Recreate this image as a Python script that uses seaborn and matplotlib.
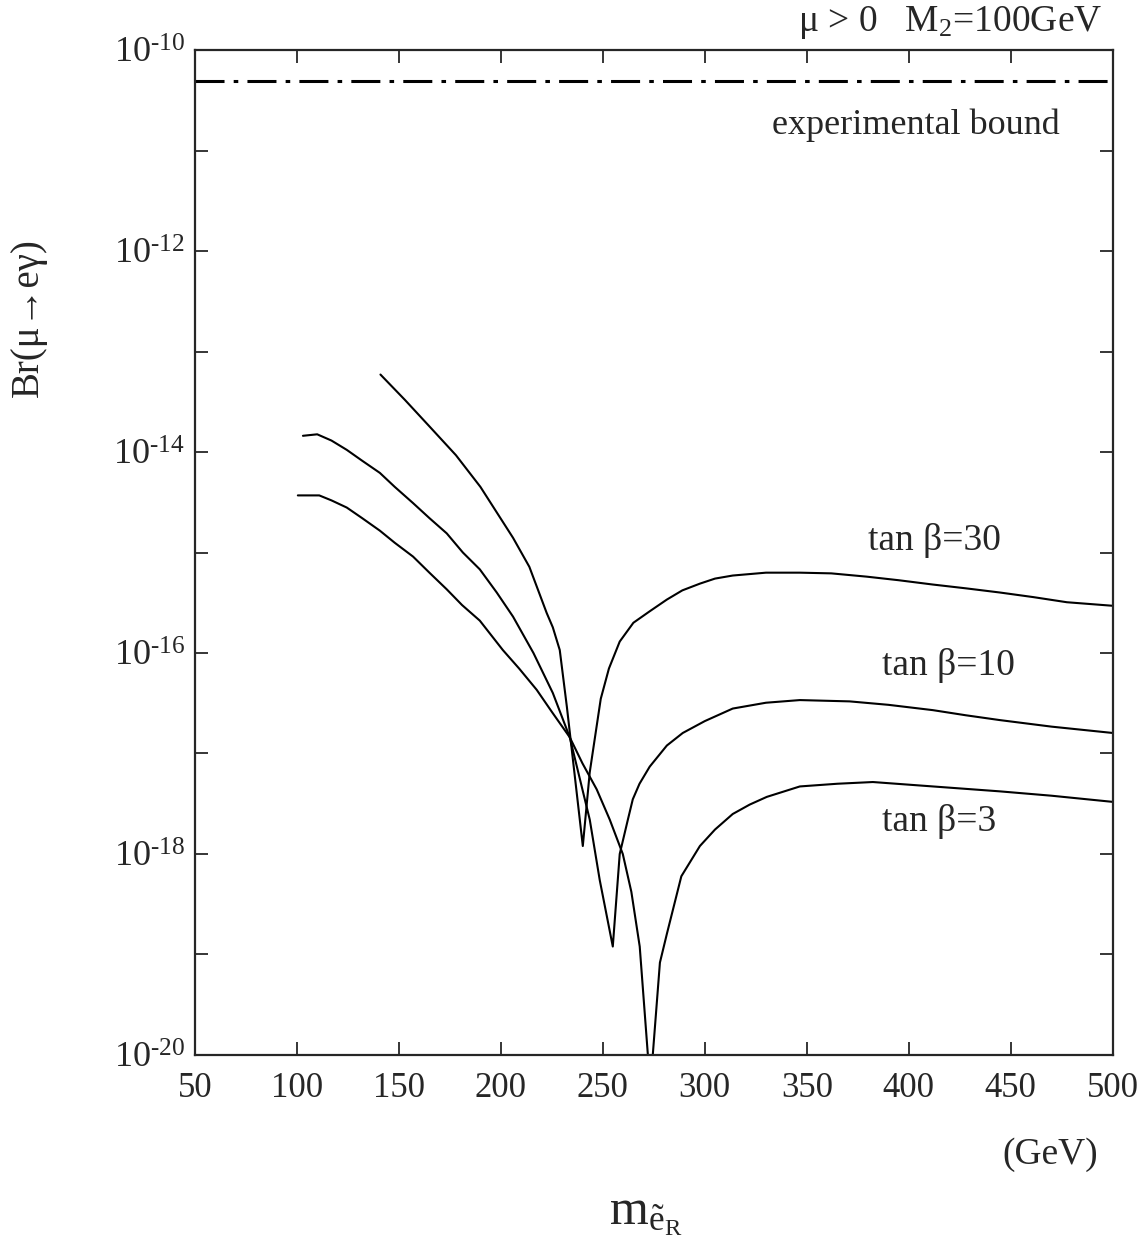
import matplotlib
matplotlib.use("Agg")
import matplotlib.pyplot as plt
from matplotlib.ticker import NullLocator
import seaborn as sns
import pandas as pd

# --- data (m_eR in GeV, Br(mu -> e gamma)) ---
m_tb30 = [141, 153, 165, 178, 190, 206, 214, 222.5, 225.5, 228.9, 232.4, 240.2,
          243.6, 249, 253, 258.3, 265, 273, 281.4, 289, 297.6, 305, 313.7, 330,
          346.6, 362, 379.4, 395, 411.8, 428, 444.6, 461, 477.5, 500]
br_tb30 = [5.9e-14, 3.3e-14, 1.8e-14, 9.3e-15, 4.5e-15, 1.4e-15, 7.2e-16, 2.5e-16,
           1.8e-16, 1.07e-16, 2.9e-17, 1.2e-18, 6.5e-18, 3.5e-17, 7.0e-17, 1.3e-16,
           2.0e-16, 2.6e-16, 3.4e-16, 4.2e-16, 4.9e-16, 5.5e-16, 5.9e-16, 6.3e-16,
           6.3e-16, 6.2e-16, 5.75e-16, 5.3e-16, 4.8e-16, 4.4e-16, 4.0e-16, 3.6e-16,
           3.2e-16, 2.95e-16]

m_tb10 = [103, 110, 117, 124.5, 132, 140.7, 148, 157, 165, 173.5, 181.4, 189.7,
          198, 206, 216, 225.5, 233.8, 243.6, 248.5, 254.9, 258.3, 262.3, 264.7,
          268, 273, 281.4, 289.2, 300, 313.7, 330, 346.6, 371, 390, 411.8, 428,
          444.6, 470, 500]
br_tb10 = [1.45e-14, 1.5e-14, 1.3e-14, 1.05e-14, 8.2e-15, 6.2e-15, 4.5e-15, 3.1e-15,
           2.2e-15, 1.55e-15, 1.0e-15, 6.8e-16, 4.0e-16, 2.3e-16, 1.0e-16, 4.0e-17,
           1.45e-17, 2.2e-18, 5.5e-19, 1.2e-19, 1.0e-18, 2.2e-18, 3.5e-18, 5.0e-18,
           7.4e-18, 1.2e-17, 1.6e-17, 2.1e-17, 2.8e-17, 3.2e-17, 3.4e-17, 3.3e-17,
           3.05e-17, 2.7e-17, 2.4e-17, 2.15e-17, 1.85e-17, 1.6e-17]

m_tb3 = [100.5, 111, 117, 124.5, 132, 140.7, 148, 157, 165, 173.5, 181, 189.7, 201,
         209, 217.6, 225, 233.8, 240, 247, 253.4, 259.8, 264, 268.1, 272.1, 273.5,
         274.5, 278, 281.4, 288.5, 297.6, 305, 313.7, 322, 330.4, 346.6, 365, 382.4,
         411.8, 444.6, 470, 500]
br_tb3 = [3.7e-15, 3.7e-15, 3.3e-15, 2.8e-15, 2.2e-15, 1.65e-15, 1.25e-15, 9.1e-16,
          6.3e-16, 4.3e-16, 3.0e-16, 2.1e-16, 1.07e-16, 7.0e-17, 4.3e-17, 2.6e-17,
          1.45e-17, 8.0e-18, 4.4e-18, 2.2e-18, 1.0e-18, 4.2e-19, 1.2e-19, 1.0e-20,
          3.0e-21, 1.0e-20, 8.3e-20, 1.6e-19, 6.0e-19, 1.2e-18, 1.75e-18, 2.5e-18,
          3.1e-18, 3.7e-18, 4.7e-18, 5.0e-18, 5.2e-18, 4.7e-18, 4.2e-18, 3.8e-18,
          3.3e-18]

exp_bound = 4.9e-11

x_ticks = [50, 100, 150, 200, 250, 300, 350, 400, 450, 500]
y_decades = list(range(-20, -9))

curves = pd.concat([
    pd.DataFrame({"m": m_tb30, "br": br_tb30, "tanb": "30"}),
    pd.DataFrame({"m": m_tb10, "br": br_tb10, "tanb": "10"}),
    pd.DataFrame({"m": m_tb3, "br": br_tb3, "tanb": "3"}),
])

sns.set_style("ticks")
plt.rcParams["font.family"] = ["Liberation Serif", "DejaVu Serif"]
plt.rcParams["mathtext.fontset"] = "custom"
plt.rcParams["mathtext.rm"] = "Liberation Serif"
plt.rcParams["mathtext.it"] = "Liberation Serif:italic"

fig = plt.figure(figsize=(11.46, 12.51), dpi=100)
ax = fig.add_axes([0.170, 0.1567, 0.801, 0.8033])

for tb, grp in curves.groupby("tanb", sort=False):
    sns.lineplot(data=grp, x="m", y="br", ax=ax, color="black", lw=1.5,
                 estimator=None, sort=False, legend=False)

ax.axhline(exp_bound, color="black", lw=2.2, ls=(0, (9.5, 3, 1.5, 3)))

ax.set_yscale("log")
ax.set_xlim(50, 500)
ax.set_ylim(1e-20, 1e-10)
ax.set_xticks(x_ticks)
ax.set_xticklabels([str(v) for v in x_ticks])
ax.set_yticks([10.0 ** e for e in y_decades])
# short hyphen in the exponent, like the original typesetting
ax.set_yticklabels(["10$^{\\mathrm{\u2010%d}}$" % -e if e % 2 == 0 else ""
                    for e in y_decades])
ax.yaxis.set_minor_locator(NullLocator())
ax.tick_params(direction="in", length=9.5, width=1.3, top=True, right=True,
               labelsize=25, pad=12)
ax.tick_params(axis="y", labelsize=26, pad=7)
for s in ax.spines.values():
    s.set_linewidth(1.6)
ax.set_xlabel("")
ax.set_ylabel("")

# annotations
ax.text(333, 10 ** -10.75, "experimental bound", fontsize=26, va="center", ha="left")
ax.text(380, 10 ** -14.88, "tan β=30", fontsize=27, va="center", ha="left")
ax.text(387, 10 ** -16.12, "tan β=10", fontsize=27, va="center", ha="left")
ax.text(387, 10 ** -17.68, "tan β=3", fontsize=27, va="center", ha="left")

fig.text(0.962, 0.982, r"μ > 0   M$_2$=100GeV", fontsize=27, ha="right", va="center")
fig.text(0.025, 0.746, "Br(μ→eγ)", fontsize=28, rotation=90, ha="center", va="center")
fig.text(0.916, 0.077, "(GeV)", fontsize=27, ha="center", va="center")
fig.text(0.563, 0.029, r"$\mathrm{m}_{\tilde{\mathrm{e}}_{\mathrm{R}}}$", fontsize=36,
         ha="center", va="center")

fig.savefig("out.png", dpi=100)
